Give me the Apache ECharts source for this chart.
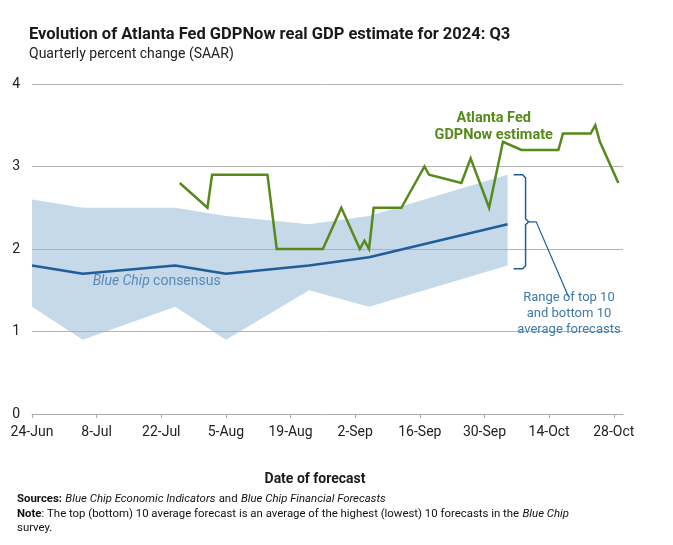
<!DOCTYPE html>
<html><head><meta charset="utf-8">
<script src="https://cdn.jsdelivr.net/npm/echarts@6/dist/echarts.min.js"></script>
<style>html,body{margin:0;padding:0;background:#fff}#c{width:673px;height:545px}</style>
</head><body><div id="c"></div>
<script>
// x = days since 24-Jun-2024
const tickDays = [0,14,28,42,56,70,84,98,112,126];
const tickLabels = ['24-Jun','8-Jul','22-Jul','5-Aug','19-Aug','2-Sep','16-Sep','30-Sep','14-Oct','28-Oct'];
const yTicks = [0,1,2,3,4];
const gdpNowDays   = [32,38,39,51,53,63,67,71,72,73,74,80,85,86,93,95,99,102,106,114,115,121,122,123,127];
const gdpNowValues = [2.8,2.5,2.9,2.9,2.0,2.0,2.5,2.0,2.1,2.0,2.5,2.5,3.0,2.9,2.8,3.1,2.5,3.3,3.2,3.2,3.4,3.4,3.5,3.3,2.8];
const blueChipDays = [0,11,31,42,60,73,103];
const consensus    = [1.8,1.7,1.8,1.7,1.8,1.9,2.3];
const bottom10     = [1.3,0.9,1.3,0.9,1.5,1.3,1.8];
const top10        = [2.6,2.5,2.5,2.4,2.3,2.4,2.9];

const FONT = 'Roboto, "Noto Sans", sans-serif';
const GREEN = '#578a1c', BLUE = '#1f5e98', RANGEBLUE = '#3d7aab';

const zip = (xs, ys) => xs.map((x, i) => [x, ys[i]]);
const bandData = blueChipDays.map((d, i) => [d, bottom10[i], top10[i]]);

const chart = echarts.init(document.getElementById('c'));
chart.setOption({
  animation: false,
  textStyle: { fontFamily: FONT },
  title: {
    text: 'Evolution of Atlanta Fed GDPNow real GDP estimate for 2024: Q3',
    subtext: 'Quarterly percent change (SAAR)',
    left: 24, top: 21, itemGap: 4,
    textStyle: { fontFamily: FONT, fontSize: 16.5, fontWeight: 'bold', color: '#1a1a1a' },
    subtextStyle: { fontFamily: FONT, fontSize: 14, color: '#222' }
  },
  grid: { left: 32, right: 50, top: 84, bottom: 131, containLabel: false },
  xAxis: {
    type: 'value', min: 0, max: 128,
    axisLine: { show: true, lineStyle: { color: '#aaaaaa' } },
    axisTick: { show: true, length: 4, customValues: tickDays, lineStyle: { color: '#aaaaaa' } },
    axisLabel: { customValues: tickDays, margin: 11, fontSize: 14, color: '#222', fontFamily: FONT,
      formatter: v => tickLabels[tickDays.indexOf(v)] || '' },
    splitLine: { show: false }
  },
  yAxis: {
    type: 'value', min: 0, max: 4, interval: 1,
    axisLine: { show: false }, axisTick: { show: false },
    axisLabel: { fontSize: 14, color: '#222', margin: 12, fontFamily: FONT,
      formatter: v => yTicks.includes(v) ? String(v) : '' },
    splitLine: { lineStyle: { color: '#b4b4b4', width: 1 } }
  },
  series: [
    { type: 'custom', data: bandData, silent: true, z: 1,
      encode: { x: 0, y: [1, 2] },
      renderItem: (params, api) => {
        if (params.dataIndex !== 0) return null;
        const lower = bandData.map(d => api.coord([d[0], d[1]]));
        const upper = bandData.map(d => api.coord([d[0], d[2]])).reverse();
        return { type: 'polygon', shape: { points: lower.concat(upper) },
                 style: { fill: 'rgba(140,180,212,0.5)' } };
      } },
    { type: 'line', data: zip(blueChipDays, consensus), symbol: 'none', z: 3,
      lineStyle: { color: BLUE, width: 2.5 } },
    { type: 'line', data: zip(gdpNowDays, gdpNowValues), symbol: 'none', z: 4,
      lineStyle: { color: GREEN, width: 2.5, join: 'miter' } }
  ]
});

function px(x, y) { return chart.convertToPixel({ gridIndex: 0 }, [x, y]); }
const c1 = px(27, 1.61);
const c2 = px(100, 3.48);
const rt = px(116.3, 1.22);
const bTop = px(104.3, 2.9), bBot = px(104.3, 1.76);
const vx = px(106.9, 0)[0];
const mid = px(106.9, 2.33), midR = px(109.2, 2.33), lead = px(116.2, 1.42);
const FN = 11.4;

chart.setOption({
  graphic: [
    { type: 'text', x: c1[0], y: c1[1], style: {
        text: '{i|Blue Chip} {n|consensus}', align: 'center', verticalAlign: 'middle',
        rich: { i: { fontStyle: 'italic', fontSize: 14, fill: BLUE, fontFamily: FONT },
                n: { fontSize: 14, fill: BLUE, fontFamily: FONT } } } },
    { type: 'text', x: c2[0], y: c2[1], style: {
        text: 'Atlanta Fed\nGDPNow estimate', align: 'center', verticalAlign: 'middle',
        font: 'bold 14.5px ' + FONT, fill: GREEN, lineHeight: 17 } },
    { type: 'text', x: rt[0], y: rt[1], style: {
        text: 'Range of top 10\nand bottom 10\naverage forecasts', align: 'center', verticalAlign: 'middle',
        font: '13px ' + FONT, fill: RANGEBLUE, lineHeight: 16 } },
    { type: 'polyline', shape: { points: [
        [bTop[0], bTop[1]], [vx - 3, bTop[1]], [vx, bTop[1] + 3], [vx, mid[1] - 3], [vx + 3, mid[1]],
        [vx, mid[1] + 3], [vx, bBot[1] - 3], [vx - 3, bBot[1]], [bBot[0], bBot[1]] ] },
      style: { stroke: BLUE, lineWidth: 1.5, fill: null } },
    { type: 'polyline', shape: { points: [[vx + 3, mid[1]], [midR[0], midR[1]], [lead[0], lead[1]]] },
      style: { stroke: BLUE, lineWidth: 1.2, fill: null } },
    { type: 'text', x: 315, y: 479, style: {
        text: 'Date of forecast', align: 'center', verticalAlign: 'middle',
        font: 'bold 14px ' + FONT, fill: '#1a1a1a' } },
    { type: 'text', x: 17, y: 499, style: {
        text: '{b|Sources:} {i|Blue Chip Economic Indicators} {n|and} {i|Blue Chip Financial Forecasts}',
        verticalAlign: 'middle',
        rich: { b: { fontWeight: 'bold', fontSize: FN, fill: '#111', fontFamily: FONT },
                i: { fontStyle: 'italic', fontSize: FN, fill: '#111', fontFamily: FONT },
                n: { fontSize: FN, fill: '#111', fontFamily: FONT } } } },
    { type: 'text', x: 17, y: 514, style: {
        text: '{b|Note}{n|: The top (bottom) 10 average forecast is an average of the highest (lowest) 10 forecasts in the} {i|Blue Chip}',
        verticalAlign: 'middle',
        rich: { b: { fontWeight: 'bold', fontSize: FN, fill: '#111', fontFamily: FONT },
                i: { fontStyle: 'italic', fontSize: FN, fill: '#111', fontFamily: FONT },
                n: { fontSize: FN, fill: '#111', fontFamily: FONT } } } },
    { type: 'text', x: 17, y: 528, style: {
        text: 'survey.', verticalAlign: 'middle', font: FN + 'px ' + FONT, fill: '#111' } }
  ]
});
</script>
</body></html>
